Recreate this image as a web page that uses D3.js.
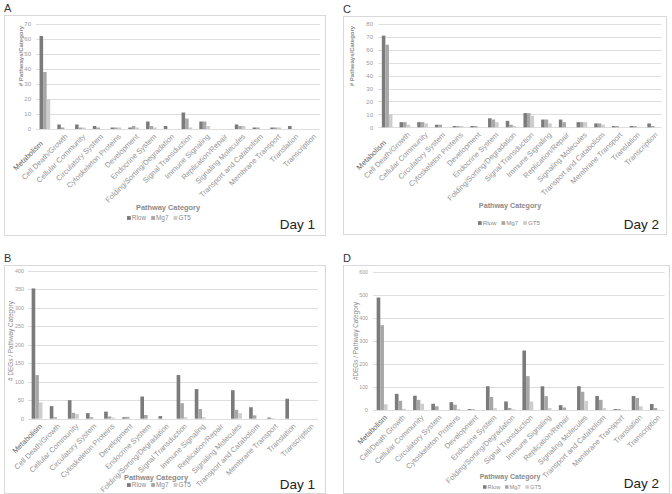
<!DOCTYPE html>
<html><head><meta charset="utf-8">
<script src="https://cdn.jsdelivr.net/npm/d3@7"></script>
<style>
body{margin:0;background:#fff}
svg{display:block;font-family:"Liberation Sans",Arial,sans-serif}
</style>
</head><body>
<svg id="chart" width="672" height="494"></svg>
<script>
// ---------------- DATA ----------------
const categories = ["Metabolism","Cell Death/Growth","Cellular Community","Circulatory System","Cytoskeleton Proteins","Development","Endocrine System","Folding/Sorting/Degradation","Signal Transduction","Immune Signaling","Replication/Repair","Signaling Molecules","Transport and Catabolism","Membrane Transport","Translation","Transcription"];
const categoriesDegDay2 = ["Metabolism","Cell/Death Growth","Cellular Community","Circulatory System","Cytoskeleton Proteins","Development","Endocrine System","Folding/Sorting/Degradation","Signal Transduction","Immune Signaling","Replication/Repair","Signaling Molecules","Transport and Catabolism","Membrane Transport","Translation","Transcription"];
const seriesNames = ["Rlow","Mg7","GT5"];

// Panel A: # pathways per category, Day 1
const pathDay1Rlow = [62,3,3,2,1,1,5,2,11,5,0,3,1,1,2,0];
const pathDay1Mg7  = [38,1,1,1,1,2,2,0,7,5,0,2,1,1,0,0];
const pathDay1GT5  = [20,0,1,0,1,1,1,0,1,2,0,2,0,1,0,0];
// Panel C: # pathways per category, Day 2
const pathDay2Rlow = [71,4,4,2,1,1,7,5,11,6,6,4,3,1,1,3];
const pathDay2Mg7  = [64,4,4,2,1,1,6,2,11,6,4,4,3,1,1,1];
const pathDay2GT5  = [10,2,3,0,1,0,4,1,9,3,0,4,2,0,0,0];
// Panel B: # DEGs per category, Day 1
const degDay1Rlow = [352,34,50,15,19,4,60,7,118,80,0,77,31,3,54,0];
const degDay1Mg7  = [118,4,16,4,6,5,10,0,42,26,0,24,9,1,0,0];
const degDay1GT5  = [44,0,13,0,3,0,0,0,4,4,0,15,0,0,0,0];
// Panel D: # DEGs per category, Day 2
const degDay2Rlow = [488,70,62,27,34,4,103,37,258,103,21,103,61,4,61,26];
const degDay2Mg7  = [368,40,44,16,23,3,57,9,147,60,11,79,44,4,52,9];
const degDay2GT5  = [25,5,27,0,4,0,8,3,36,8,0,39,8,0,16,0];

// Tick labels
const ticksA = [0,10,20,30,40,50,60,70];
const ticksC = [0,10,20,30,40,50,60,70,80];
const ticksB = [0,50,100,150,200,250,300,350,400];
const ticksD = [0,100,200,300,400,500,600];

// ---------------- STYLE / LAYOUT ----------------
const colors = ["#7b7b7b","#a7a7a7","#cdcdcd"];
const svg = d3.select("#chart");

const panels = [
  {letter:"A", cats:categories, series:[pathDay1Rlow,pathDay1Mg7,pathDay1GT5], ticks:ticksA,
   box:[4,15,325,235], px:[36,320], py:[129,24], tickX:31, tickFs:6,
   yTitle:"# Pathways/Category", yTitleX:20.5, yTitleY:56, yTitleFs:6, yTitleBold:true,
   xTitleX:168, xTitleY:209.5, xTitleFs:7.4, legX:127, legY:218, legFs:6.4,
   day:"Day 1", dayX:315, dayY:229, metabShift:[-7,7]},
  {letter:"C", cats:categories, series:[pathDay2Rlow,pathDay2Mg7,pathDay2GT5], ticks:ticksC,
   box:[343,16,666,234], px:[378.3,661.5], py:[127.3,24], tickX:373, tickFs:6,
   yTitle:"# Pathways/Category", yTitleX:351.5, yTitleY:56, yTitleFs:6, yTitleBold:true,
   xTitleX:510, xTitleY:207.5, xTitleFs:7.2, legX:478, legY:223, legFs:6.2,
   day:"Day 2", dayX:659, dayY:229, metabShift:[-6,8]},
  {letter:"B", cats:categories, series:[degDay1Rlow,degDay1Mg7,degDay1GT5], ticks:ticksB,
   box:[4,265,325,493], px:[28,318], py:[418.7,270.7], tickX:24, tickFs:5.4,
   yTitle:"# DEGs / Pathway Category", yTitleX:10.5, yTitleY:341, yTitleFs:6.4, yTitleBold:false,
   xTitleX:156, xTitleY:479.5, xTitleFs:7.4, legX:127, legY:485, legFs:6.4,
   day:"Day 1", dayX:315, dayY:489, metabShift:[0,0]},
  {letter:"D", cats:categoriesDegDay2, series:[degDay2Rlow,degDay2Mg7,degDay2GT5], ticks:ticksD,
   box:[343,265,669,493], px:[373,664.5], py:[410,271.7], tickX:368, tickFs:5.2,
   yTitle:"#DEGs / Pathway Category", yTitleX:355.5, yTitleY:341, yTitleFs:6.4, yTitleBold:false,
   xTitleX:510, xTitleY:478.5, xTitleFs:7.0, legX:483, legY:487, legFs:5.8,
   day:"Day 2", dayX:659, dayY:488, metabShift:[0,0]}
];

panels.forEach(p => {
  const g = svg.append("g");
  // panel letter
  g.append("text").attr("x", p.box[0]).attr("y", p.box[1]-3)
    .attr("font-size", 11).attr("fill", "#333").text(p.letter);
  // frame
  g.append("rect").attr("x", p.box[0]+0.5).attr("y", p.box[1]+0.5)
    .attr("width", p.box[2]-p.box[0]).attr("height", p.box[3]-p.box[1])
    .attr("fill", "none").attr("stroke", "#d9d9d9").attr("stroke-width", 1);

  const ymax = p.ticks[p.ticks.length-1];
  const y = d3.scaleLinear().domain([0, ymax]).range(p.py);
  const x0 = d3.scaleBand().domain(p.cats).range(p.px).paddingInner(0).paddingOuter(0);
  const x1 = d3.scaleBand().domain(seriesNames).range([x0.bandwidth()*0.2, x0.bandwidth()*0.8]);

  // gridlines
  g.append("g").selectAll("line").data(p.ticks).join("line")
    .attr("x1", p.px[0]).attr("x2", p.px[1])
    .attr("y1", d => Math.round(y(d))+0.5).attr("y2", d => Math.round(y(d))+0.5)
    .attr("stroke", "#dedede").attr("stroke-width", 1);

  // y axis tick labels
  const yAxis = d3.axisLeft(y).tickValues(p.ticks).tickSize(0).tickPadding(0);
  const ya = g.append("g").attr("transform", `translate(${p.tickX},0)`).call(yAxis);
  ya.select(".domain").remove();
  ya.selectAll("text").attr("font-size", p.tickFs).attr("fill", "#9a9a9a")
    .attr("font-family", '"Liberation Sans",Arial,sans-serif');

  // bars
  const rows = p.cats.map((c, i) => ({cat: c, vals: seriesNames.map((s, k) => ({s, k, v: p.series[k][i]}))}));
  g.append("g").selectAll("g").data(rows).join("g")
    .attr("transform", d => `translate(${x0(d.cat)},0)`)
    .selectAll("rect").data(d => d.vals).join("rect")
    .attr("x", d => x1(d.s)).attr("width", x1.bandwidth())
    .attr("y", d => y(d.v)).attr("height", d => y(0) - y(d.v))
    .attr("fill", d => colors[d.k]);

  // x axis category labels
  const xAxis = d3.axisBottom(x0).tickSize(0).tickPadding(0);
  const xa = g.append("g").attr("transform", `translate(0,${p.py[0]})`).call(xAxis);
  xa.select(".domain").remove();
  xa.selectAll("text")
    .attr("font-size", 7.5).attr("fill", (d, i) => i === 0 ? "#666" : "#959595")
    .attr("font-family", '"Liberation Sans",Arial,sans-serif')
    .attr("text-anchor", "end").attr("dy", null).attr("y", null)
    .attr("transform", (d, i) => {
      const sx = i === 0 ? p.metabShift[0] : 0, sy = i === 0 ? p.metabShift[1] : 0;
      return `translate(${5.5+sx},${8+sy}) rotate(-45)`;
    });

  // y title
  g.append("text").attr("transform", `translate(${p.yTitleX},${p.yTitleY}) rotate(-90)`)
    .attr("text-anchor", "middle").attr("dy", "0.35em")
    .attr("font-size", p.yTitleFs).attr("font-weight", p.yTitleBold ? "bold" : "normal")
    .attr("fill", "#8a8a8a").text(p.yTitle);

  // x title
  g.append("text").attr("x", p.xTitleX).attr("y", p.xTitleY).attr("text-anchor", "middle")
    .attr("font-size", p.xTitleFs).attr("font-weight", "bold").attr("fill", "#8a8a8a")
    .text("Pathway Category");

  // legend
  let lx = p.legX;
  const leg = g.append("g");
  seriesNames.forEach((s, k) => {
    const sq = p.legFs*0.6;
    leg.append("rect").attr("x", lx).attr("y", p.legY - sq/2).attr("width", sq).attr("height", sq)
      .attr("fill", colors[k]);
    lx += sq + 1;
    const t = leg.append("text").attr("x", lx).attr("y", p.legY).attr("dy", "0.35em")
      .attr("font-size", p.legFs).attr("fill", "#8a8a8a").text(s);
    lx += t.node().getComputedTextLength() + p.legFs*0.8;
  });

  // day label
  g.append("text").attr("x", p.dayX).attr("y", p.dayY).attr("text-anchor", "end")
    .attr("font-size", 13.5).attr("fill", "#222").text(p.day);
});
</script>
</body></html>
